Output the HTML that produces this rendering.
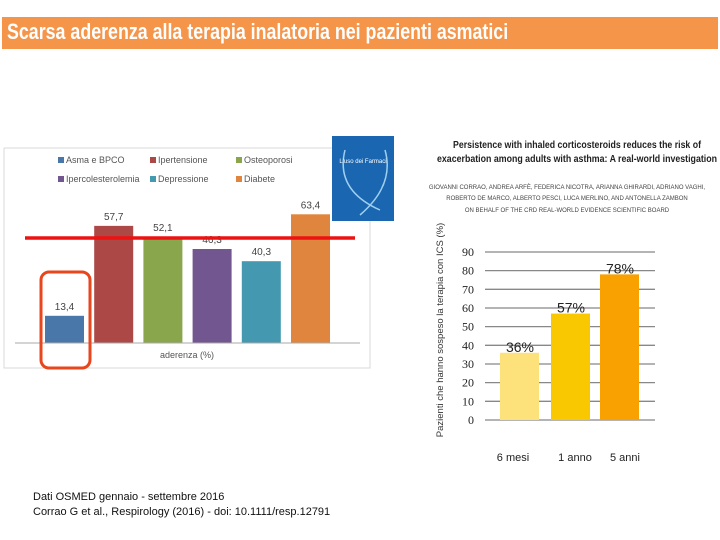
<!DOCTYPE html>
<html><head><meta charset="utf-8"><style>
body{margin:0;width:720px;height:540px;background:#fff;position:relative;overflow:hidden;font-family:"Liberation Sans",sans-serif}
.abs{position:absolute}
</style></head><body>
<div class="abs" style="left:2px;top:17px;width:716px;height:32px;background:#f5954a"></div>
<div class="abs" style="left:7px;top:19px;font-size:22px;font-weight:bold;color:#fff;white-space:nowrap;transform-origin:0 0;transform:scaleX(0.81)">Scarsa aderenza alla terapia inalatoria nei pazienti asmatici</div>
<svg class="abs" style="left:0;top:0" width="720" height="540">
<g id="left"></g>
<g id="right"></g>
</svg>
<div class="abs" style="left:33px;top:490px;font-size:11px;color:#111;line-height:15px;white-space:nowrap">Dati OSMED gennaio - settembre 2016<br>Corrao G et al., Respirology (2016) - doi: 10.1111/resp.12791</div>
<script>
const leftCats=["Asma e BPCO","Ipertensione","Osteoporosi","Ipercolesterolemia","Depressione","Diabete"];
const leftVals=[13.4,57.7,52.1,46.3,40.3,63.4];
const leftLabels=["13,4","57,7","52,1","46,3","40,3","63,4"];
const rightCats=["6 mesi","1 anno","5 anni"];
const rightVals=[36,57,78];
const rightTicks=[0,10,20,30,40,50,60,70,80,90];
const NS="http://www.w3.org/2000/svg";
function mk(p,t,a,txt){const e=document.createElementNS(NS,t);for(const k in a)e.setAttribute(k,a[k]);if(txt!=null)e.textContent=txt;p.appendChild(e);return e;}
const L=document.getElementById('left');
const lc=["#4a77aa","#ac4846","#8aa64c","#715690","#4499b0","#e0853d"];
const ly=v=>343-v*2.03;
let fr=mk(L,'path',{d:'M4 148 H332 M4 148 V368 H370 V221',fill:'none',stroke:'#d8d8d8','stroke-width':1});

const legX=[58,150,236];
leftCats.forEach((c,i)=>{
 const x=legX[i%3],y=i<3?163:182;
 const s=mk(L,'rect',{x:x,y:y-6,width:6,height:6,fill:lc[i]});
 
 const t=mk(L,'text',{x:x+8,y:y,'font-size':9,fill:'#555'},c);
 
 const bx=45+i*49.2;
 const b=mk(L,'rect',{x:bx,y:ly(leftVals[i]),width:39,height:343-ly(leftVals[i]),fill:lc[i]});
 
 const v=mk(L,'text',{x:bx+19.5,y:ly(leftVals[i])-6,'font-size':10,fill:'#444','text-anchor':'middle'},leftLabels[i]);
 
});
let ax=mk(L,'line',{x1:15,x2:360,y1:343,y2:343,stroke:'#aaa'});

let xt=mk(L,'text',{x:187,y:358,'font-size':9,fill:'#555','text-anchor':'middle'},'aderenza (%)');

let rl=mk(L,'line',{x1:25,x2:355,y1:238,y2:238,stroke:'#ee1111','stroke-width':3.5});

let hl=mk(L,'rect',{x:41,y:272,width:49,height:96,rx:8,fill:'none',stroke:'#e8461c','stroke-width':3});

let cv=mk(L,'rect',{x:332,y:136,width:62,height:85,fill:'#1a66b0'});

mk(L,'path',{d:'M345 150 Q335 190 380 210 M385 150 Q395 185 360 215',stroke:'#9fd0f0',fill:'none','stroke-width':1.5});
mk(L,'text',{x:363,y:163,'font-size':6,fill:'#fff','text-anchor':'middle'},"L'uso dei Farmaci");
const R=document.getElementById('right');
const ry=v=>420-v*1.867;
const tl=[["Persistence with inhaled corticosteroids reduces the risk of",148,248],["exacerbation among adults with asthma: A real-world investigation",162,280]];
tl.forEach(a=>{const t=mk(R,'text',{x:577,y:a[1],'font-size':10,'font-weight':'bold',fill:'#222','text-anchor':'middle',textLength:a[2],lengthAdjust:'spacingAndGlyphs'},a[0]);});
const au=[["GIOVANNI CORRAO, ANDREA ARFÈ, FEDERICA NICOTRA, ARIANNA GHIRARDI, ADRIANO VAGHI,",189],["ROBERTO DE MARCO, ALBERTO PESCI, LUCA MERLINO, AND ANTONELLA ZAMBON",200],["ON BEHALF OF THE CRD REAL-WORLD EVIDENCE SCIENTIFIC BOARD",212]];
au.forEach(a=>{const t=mk(R,'text',{x:567,y:a[1],'font-size':6,fill:'#444','text-anchor':'middle'},a[0]);});
rightTicks.forEach(v=>{
 const g=mk(R,'line',{x1:485,x2:655,y1:ry(v),y2:ry(v),stroke:'#888','stroke-width':1.3});
 
 const t=mk(R,'text',{x:474,y:ry(v)+4,'font-size':12,fill:'#222','text-anchor':'end','font-family':'Liberation Serif'},v);
 
});
const rc=["#fde17b","#fac800","#f8a100"];
const rx=[500,551,600],lx=[513,575,625];
rightCats.forEach((c,i)=>{
 const b=mk(R,'rect',{x:rx[i],y:ry(rightVals[i]),width:39,height:420-ry(rightVals[i]),fill:rc[i]});
 
 const v=mk(R,'text',{x:rx[i]+20,y:ry(rightVals[i])-1,'font-size':14,fill:'#222','text-anchor':'middle'},rightVals[i]+'%');
 
 const t=mk(R,'text',{x:lx[i],y:461,'font-size':11,fill:'#222','text-anchor':'middle'},c);
 
});
let yt=mk(R,'text',{x:0,y:0,'font-size':9.5,fill:'#333','text-anchor':'middle',transform:'translate(443,330) rotate(-90)'},'Pazienti che hanno sospeso la terapia con ICS (%)');

</script>
</body></html>
